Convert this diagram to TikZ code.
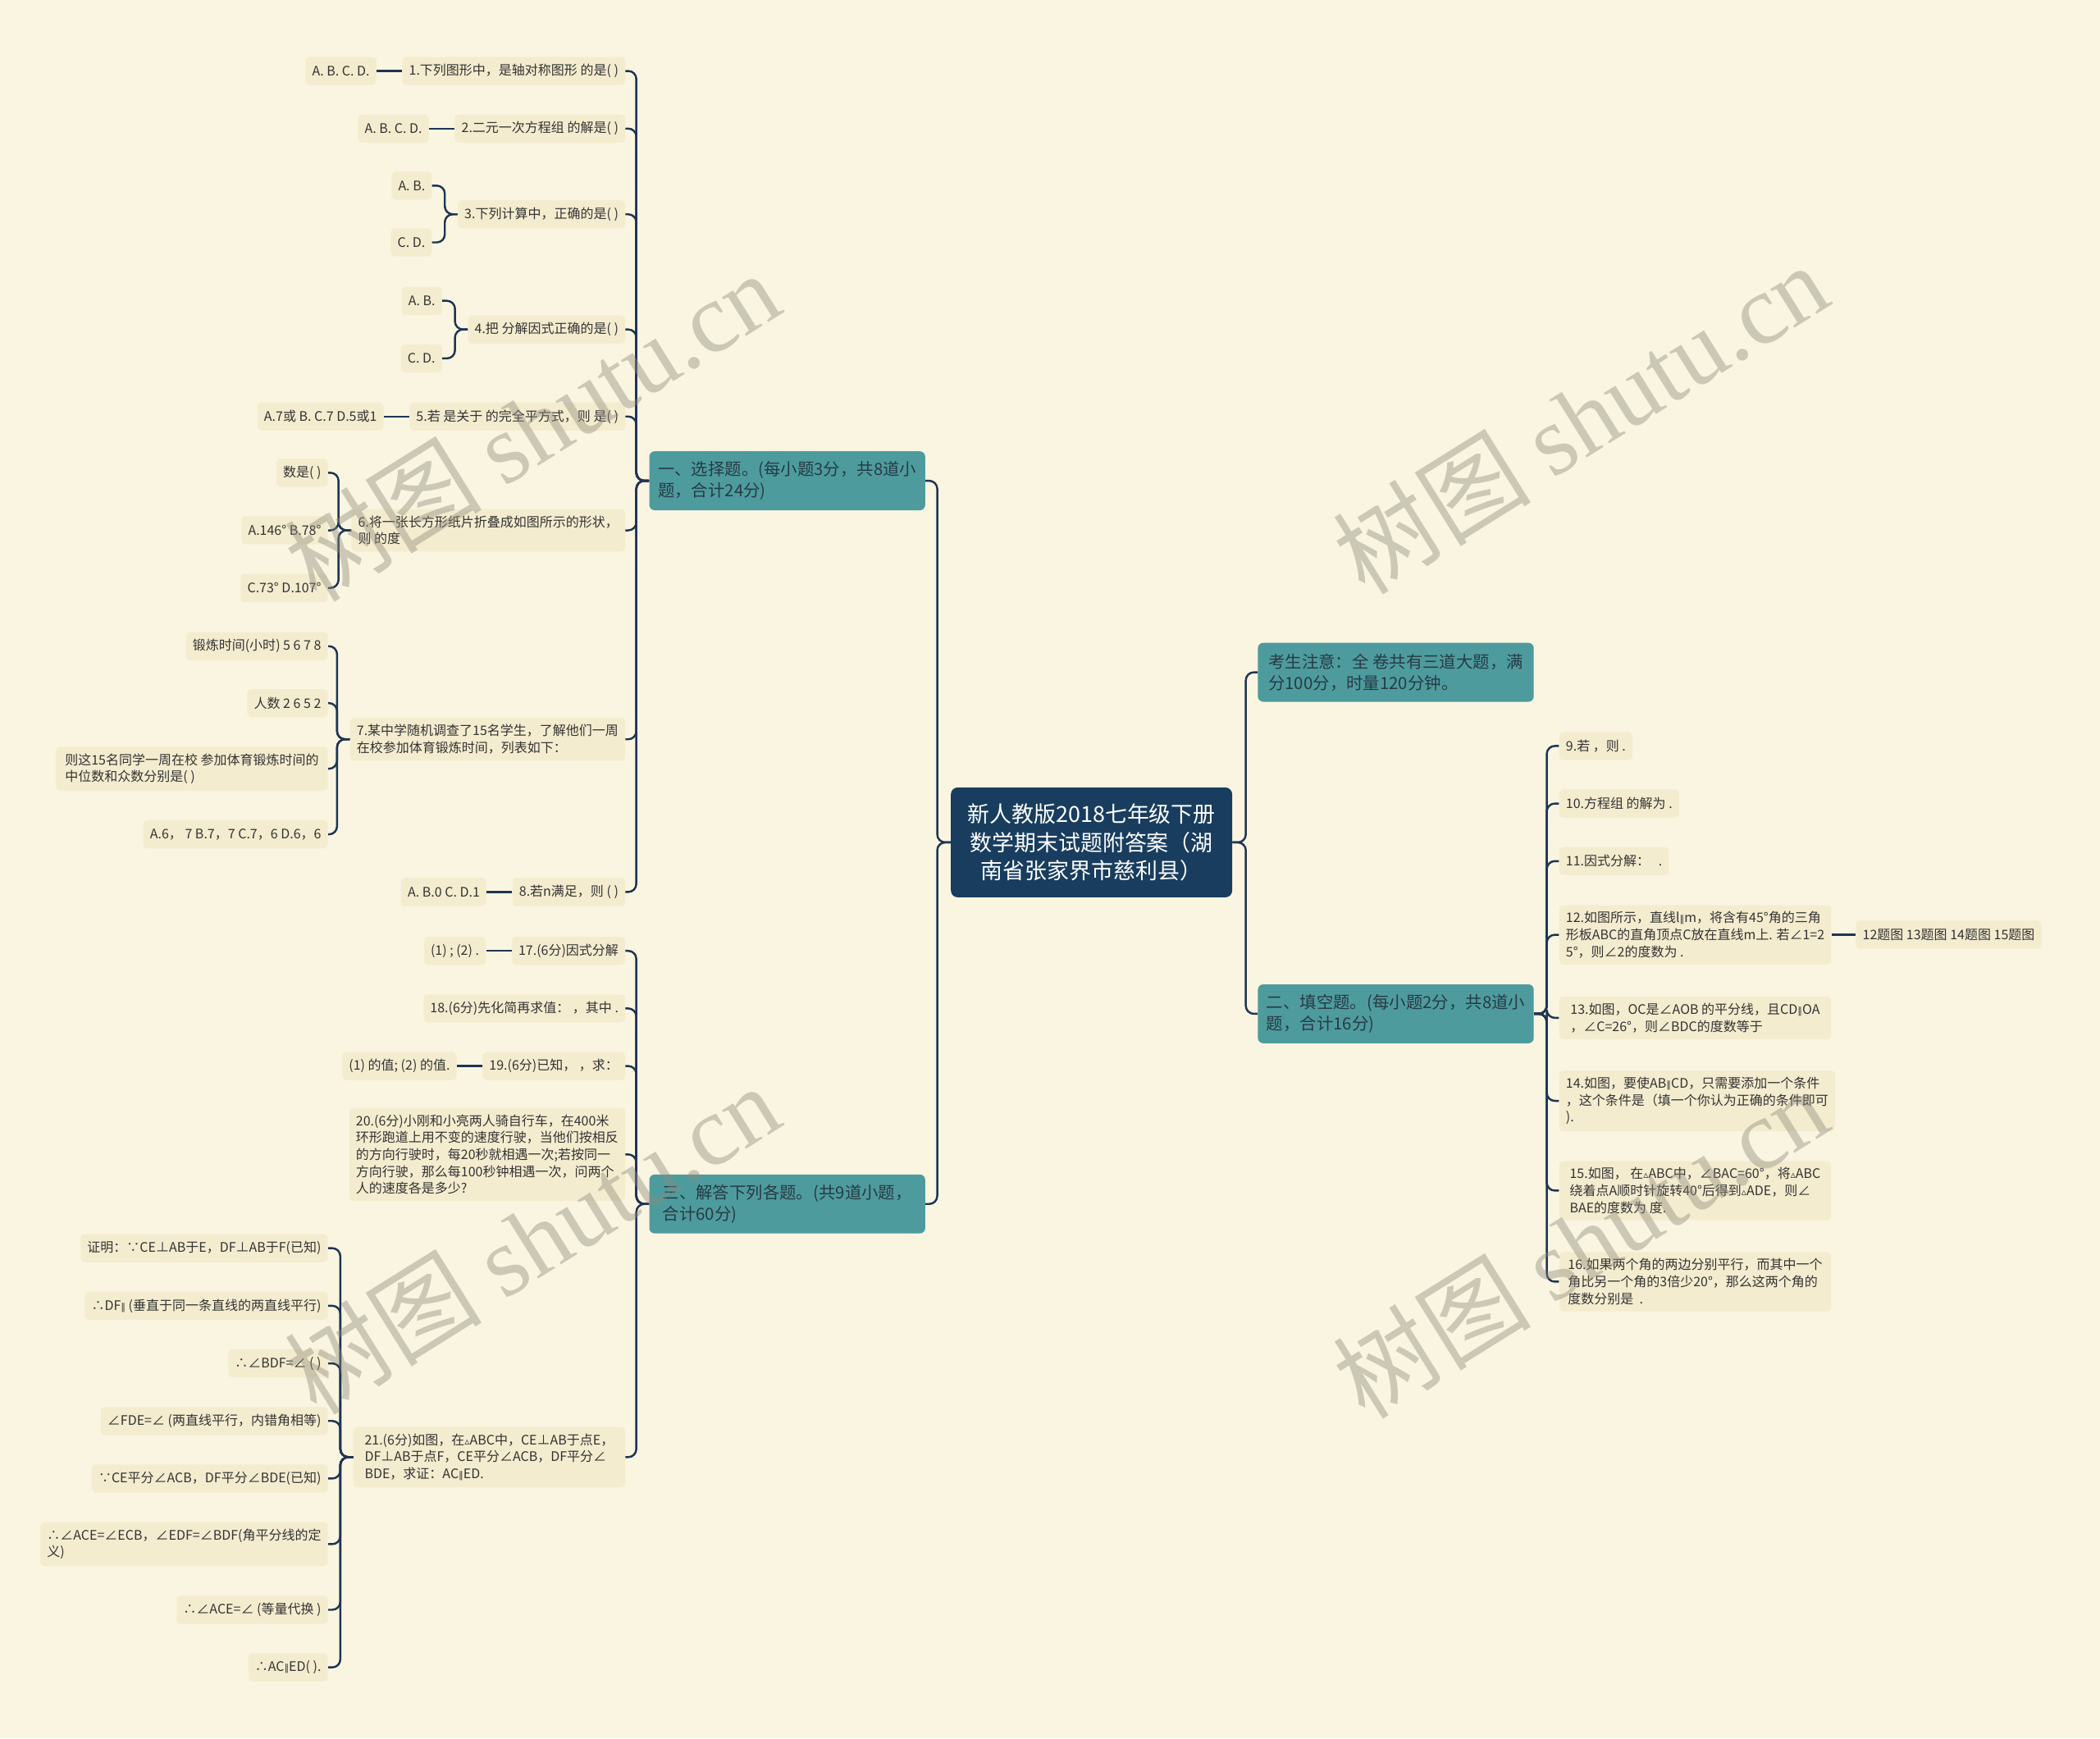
\documentclass[tikz,border=0pt]{standalone}
\usepackage{fontspec}
\setmainfont{Noto Sans CJK SC}
\newfontfamily\dvfont{DejaVu Sans}
\newfontfamily\wmserif{Liberation Serif}
\usetikzlibrary{positioning}
\definecolor{bgc}{HTML}{FAF5E1}
\definecolor{leafc}{HTML}{F4ECCF}
\definecolor{leaftxt}{HTML}{333333}
\definecolor{tealc}{HTML}{4E9B9E}
\definecolor{secttxt}{HTML}{263B45}
\definecolor{rootc}{HTML}{183D5E}
\definecolor{connc}{HTML}{1E3552}
\definecolor{wmc}{HTML}{8E8B7C}
\newcommand{\mytri}{{\dvfont\fontsize{7.5}{7.5}\selectfont ▵}}
\newcommand{\mypar}{{\dvfont\fontsize{7}{7}\selectfont ∥}}
\tikzset{
  leaf/.style={fill=leafc, rounded corners=3pt, inner xsep=5pt, inner ysep=5pt,
    font=\fontsize{9.8}{12.6}\selectfont, text=leaftxt, align=left, minimum height=21pt},
  wide/.style={leaf, minimum width=203pt},
  sect/.style={fill=tealc, rounded corners=4pt, text=secttxt,
    font=\fontsize{12.5}{16}\selectfont, align=left, minimum width=206pt,
    minimum height=44pt, inner xsep=6pt},
  rootbox/.style={fill=rootc, rounded corners=5pt, text=white,
    font=\fontsize{16.5}{21.4}\selectfont, align=center, minimum width=210pt,
    minimum height=82pt},
  conn/.style={draw=connc, line width=1.5pt, rounded corners=6pt},
  wm/.style={rotate=32, text=wmc, text opacity=0.42, font=\fontsize{74}{74}\selectfont}
}
\begin{document}
\begin{tikzpicture}[x=1pt,y=-1pt]
\fill[bgc] (0,0) rectangle (1568,1298);
\useasboundingbox (0,0) rectangle (1568,1298);

% root and sections
\node[rootbox] (root) at (815,629) {新人教版2018七年级下册\\数学期末试题附答案（湖\\南省张家界市慈利县）};
\node[sect, anchor=east] (b1) at (691,359) {一、选择题。(每小题3分，共8道小\\题，合计24分)};
\node[sect, anchor=east] (b3) at (691,899) {三、解答下列各题。(共9道小题，\\合计60分)};
\node[sect, anchor=west] (b0) at (939,502) {考生注意：全 卷共有三道大题，满\\分100分，时量120分钟。};
\node[sect, anchor=west] (b2) at (939,757) {二、填空题。(每小题2分，共8道小\\题，合计16分)};

% section 1 questions
\node[leaf, anchor=east] (q1) at (467,53) {1.下列图形中，是轴对称图形 的是( )};
\node[leaf, anchor=east] (q2) at (467,96) {2.二元一次方程组 的解是( )};
\node[leaf, anchor=east] (q3) at (467,160) {3.下列计算中，正确的是( )};
\node[leaf, anchor=east] (q4) at (467,246) {4.把 分解因式正确的是( )};
\node[leaf, anchor=east] (q5) at (467,311) {5.若 是关于 的完全平方式，则 是( )};
\node[wide, anchor=east] (q6) at (467,396) {6.将一张长方形纸片折叠成如图所示的形状，\\则 的度};
\node[wide, anchor=east] (q7) at (467,552) {7.某中学随机调查了15名学生，了解他们一周\\在校参加体育锻炼时间，列表如下：};
\node[leaf, anchor=east] (q8) at (467,666) {8.若n满足，则 ( )};

\node[leaf, left=19pt of q1] (a1) {A. B. C. D.};
\node[leaf, left=19pt of q2] (a2) {A. B. C. D.};
\node[leaf, anchor=east] (a3a) at ([xshift=-19pt,yshift=21.4pt]q3.west) {A. B.};
\node[leaf, anchor=east] (a3b) at ([xshift=-19pt,yshift=-21pt]q3.west) {C. D.};
\node[leaf, anchor=east] (a4a) at ([xshift=-19pt,yshift=21.4pt]q4.west) {A. B.};
\node[leaf, anchor=east] (a4b) at ([xshift=-19pt,yshift=-21.6pt]q4.west) {C. D.};
\node[leaf, left=19pt of q5] (a5) {A.7或 B. C.7 D.5或1};
\node[leaf, anchor=east] (a6a) at (245,353) {数是( )};
\node[leaf, anchor=east] (a6b) at (245,396) {A.146° B.78°};
\node[leaf, anchor=east] (a6c) at (245,439) {C.73° D.107°};
\node[leaf, anchor=east] (a7a) at (245,482.5) {锻炼时间(小时) 5 6 7 8};
\node[leaf, anchor=east] (a7b) at (245,525) {人数 2 6 5 2};
\node[wide, anchor=east] (a7c) at (245,574) {则这15名同学一周在校 参加体育锻炼时间的\\中位数和众数分别是( )};
\node[leaf, anchor=east] (a7d) at (245,623) {A.6，~7 B.7，7 C.7，6 D.6，6};
\node[leaf, left=19pt of q8] (a8) {A. B.0 C. D.1};

% section 3 questions
\node[leaf, anchor=east] (q17) at (467,710) {17.(6分)因式分解};
\node[leaf, anchor=east] (q18) at (467,753) {18.(6分)先化简再求值：~，其中 .};
\node[leaf, anchor=east] (q19) at (467,796) {19.(6分)已知，~，求：};
\node[wide, anchor=east] (q20) at (467,862) {20.(6分)小刚和小亮两人骑自行车，在400米\\环形跑道上用不变的速度行驶，当他们按相反\\的方向行驶时，每20秒就相遇一次;若按同一\\方向行驶，那么每100秒钟相遇一次，问两个\\人的速度各是多少?};
\node[wide, anchor=east] (q21) at (467,1088) {21.(6分)如图，在\mytri ABC中，CE⊥AB于点E，\\DF⊥AB于点F，CE平分∠ACB，DF平分∠\\BDE，求证：AC\mypar ED.};

\node[leaf, left=19pt of q17] (a17) {(1) ; (2) .};
\node[leaf, left=19pt of q19] (a19) {(1) 的值; (2) 的值.};
\node[leaf, anchor=east] (s1) at (245,932) {证明：∵CE⊥AB于E，DF⊥AB于F(已知)};
\node[leaf, anchor=east] (s2) at (245,975) {∴DF\mypar\ (垂直于同一条直线的两直线平行)};
\node[leaf, anchor=east] (s3) at (245,1018) {∴∠BDF=∠ ( )};
\node[leaf, anchor=east] (s4) at (245,1061) {∠FDE=∠ (两直线平行，内错角相等)};
\node[leaf, anchor=east] (s5) at (245,1104) {∵CE平分∠ACB，DF平分∠BDE(已知)};
\node[wide, anchor=east] (s6) at (245,1153) {∴∠ACE=∠ECB，∠EDF=∠BDF(角平分线的定\\义)};
\node[leaf, anchor=east] (s7) at (245,1202) {∴∠ACE=∠ (等量代换 )};
\node[leaf, anchor=east] (s8) at (245,1245) {∴AC\mypar ED( ).};

% section 2 questions
\node[leaf, anchor=west] (r9) at (1164,557) {9.若 ，则 .};
\node[leaf, anchor=west] (r10) at (1164,600) {10.方程组 的解为 .};
\node[leaf, anchor=west] (r11) at (1164,643) {11.因式分解：~~ .};
\node[wide, anchor=west] (r12) at (1164,698) {12.如图所示，直线l\mypar m，将含有45°角的三角\\形板ABC的直角顶点C放在直线m上. 若∠1=2\\5°，则∠2的度数为 .};
\node[wide, anchor=west] (r13) at (1164,760) {13.如图，OC是∠AOB 的平分线，且CD\mypar OA\\，∠C=26°，则∠BDC的度数等于};
\node[wide, anchor=west] (r14) at (1164,822) {14.如图，要使AB\mypar CD，只需要添加一个条件\\，这个条件是（填一个你认为正确的条件即可\\).};
\node[wide, anchor=west] (r15) at (1164,889) {15.如图， 在\mytri ABC中，∠BAC=60°，将\mytri ABC\\绕着点A顺时针旋转40°后得到\mytri ADE，则∠\\BAE的度数为 度.};
\node[wide, anchor=west] (r16) at (1164,957) {16.如果两个角的两边分别平行，而其中一个\\角比另一个角的3倍少20°，那么这两个角的\\度数分别是 ~.};
\node[leaf, right=18pt of r12] (r12a) {12题图 13题图 14题图 15题图};

% connectors: root to sections
\foreach \s in {b1,b3} \draw[conn] (root.west) -- ++(-10,0) |- (\s.east);
\foreach \s in {b0,b2} \draw[conn] (root.east) -- ++(10,0) |- (\s.west);
% sections to questions
\foreach \q in {q1,q2,q3,q4,q5,q6,q7,q8} \draw[conn] (b1.west) -- ++(-9.5,0) |- (\q.east);
\foreach \q in {q17,q18,q19,q20,q21} \draw[conn] (b3.west) -- ++(-9.5,0) |- (\q.east);
\foreach \q in {r9,r10,r11,r12,r13,r14,r15,r16} \draw[conn] (b2.east) -- ++(9.5,0) |- (\q.west);
% grandchildren
\draw[conn] (q1.west) -- (a1.east);
\draw[conn] (q2.west) -- (a2.east);
\foreach \a in {a3a,a3b} \draw[conn] (q3.west) -- ++(-9.5,0) |- (\a.east);
\foreach \a in {a4a,a4b} \draw[conn] (q4.west) -- ++(-9.5,0) |- (\a.east);
\draw[conn] (q5.west) -- (a5.east);
\foreach \a in {a6a,a6b,a6c} \draw[conn] (q6.west) -- ++(-9.5,0) |- (\a.east);
\foreach \a in {a7a,a7b,a7c,a7d} \draw[conn] (q7.west) -- ++(-9.5,0) |- (\a.east);
\draw[conn] (q8.west) -- (a8.east);
\draw[conn] (q17.west) -- (a17.east);
\draw[conn] (q19.west) -- (a19.east);
\foreach \a in {s1,s2,s3,s4,s5,s6,s7,s8} \draw[conn] (q21.west) -- ++(-9.5,0) |- (\a.east);
\draw[conn] (r12.east) -- (r12a.west);

% watermarks
\node[wm] (wm1) at (397,318) {树图 {\wmserif shutu.cn}};
\node[wm] (wm2) at (1180,312) {树图 {\wmserif shutu.cn}};
\node[wm] (wm3) at (397,925) {树图 {\wmserif shutu.cn}};
\node[wm] (wm4) at (1180,928) {树图 {\wmserif shutu.cn}};
\end{tikzpicture}
\end{document}
